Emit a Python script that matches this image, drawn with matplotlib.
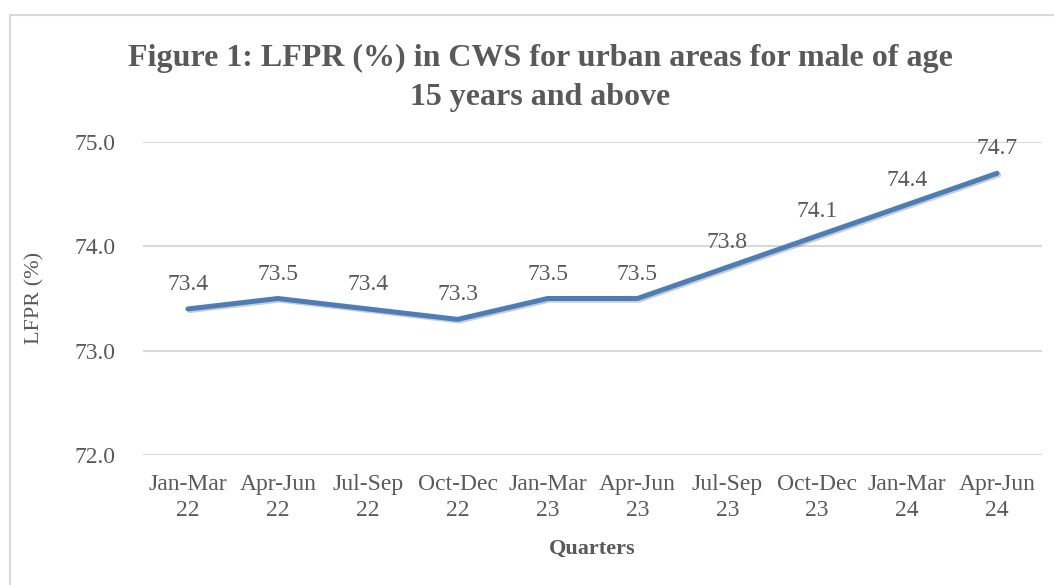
import matplotlib.pyplot as plt
import matplotlib.patheffects as pe
from matplotlib.patches import Rectangle

# data
quarters = ['Jan-Mar\n22', 'Apr-Jun\n22', 'Jul-Sep\n22', 'Oct-Dec\n22', 'Jan-Mar\n23',
            'Apr-Jun\n23', 'Jul-Sep\n23', 'Oct-Dec\n23', 'Jan-Mar\n24', 'Apr-Jun\n24']
lfpr = [73.4, 73.5, 73.4, 73.3, 73.5, 73.5, 73.8, 74.1, 74.4, 74.7]
yticks = [72.0, 73.0, 74.0, 75.0]

plt.rcParams['font.family'] = ['Liberation Serif', 'DejaVu Serif']
txt = '#595959'

fig = plt.figure(figsize=(10.54, 5.85), dpi=100)
W, H = 1054, 585

# outer frame of the chart
fig.patches.append(Rectangle((10 / W, -0.2), 1.2, 1.2 - 15 / H, transform=fig.transFigure,
                             fill=False, edgecolor='#d9d9d9', linewidth=1.5))

ax = fig.add_axes([143 / W, 1 - 455 / H, 899 / W, 313 / H])
x = range(len(quarters))
ax.plot(x, lfpr, color='#4a7ebb', linewidth=3.6, solid_capstyle='round',
        path_effects=[pe.SimpleLineShadow(offset=(1.2, -1.2), alpha=0.2), pe.Normal()])

for i, v in enumerate(lfpr):
    ax.annotate(f'{v:.1f}', (i, v), xytext=(0, 10), textcoords='offset points',
                ha='center', va='bottom', fontsize=17, color=txt)

ax.set_xlim(-0.5, len(quarters) - 0.5)
ax.set_ylim(72, 75)
ax.set_yticks(yticks)
ax.set_yticklabels([f'{t:.1f}' for t in yticks])
ax.set_xticks(list(x))
ax.set_xticklabels(quarters, linespacing=1.3)
ax.tick_params(axis='both', length=0, labelsize=17, colors=txt)
ax.tick_params(axis='y', pad=20)
ax.tick_params(axis='x', pad=14)
ax.grid(axis='y', color='#d9d9d9', linewidth=1.5)
for s in ax.spines.values():
    s.set_visible(False)
ax.set_axisbelow(True)

ax.set_xlabel('Quarters', fontsize=16, fontweight='bold', color=txt, labelpad=13)
fig.text(35 / W, 1 - 298 / H, 'LFPR (%)', rotation=90, ha='center', va='center',
         fontsize=16, color=txt)

fig.text(540 / W, 1 - 78 / H, 'Figure 1: LFPR (%) in CWS for urban areas for male of age\n15 years and above',
         ha='center', va='center', fontsize=23, fontweight='bold', color=txt, linespacing=1.45)

fig.savefig('out.png', dpi=100)
